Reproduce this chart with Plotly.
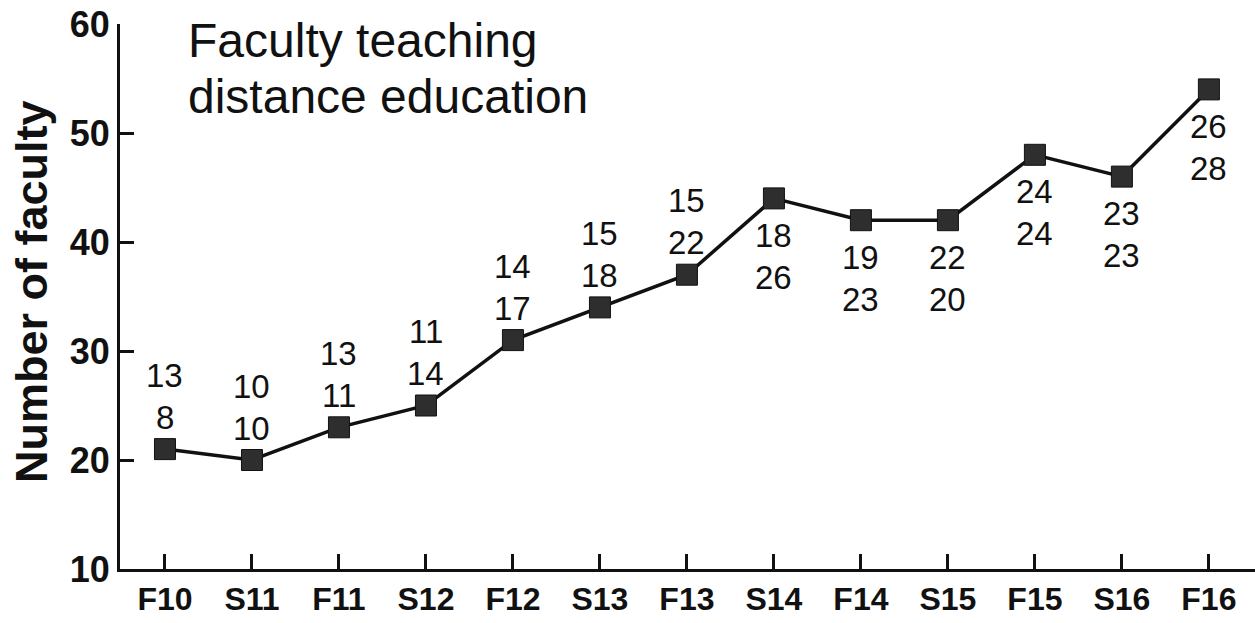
import plotly.graph_objects as go

semesters = ["F10", "S11", "F11", "S12", "F12", "S13", "F13",
             "S14", "F14", "S15", "F15", "S16", "F16"]
faculty_total = [21, 20, 23, 25, 31, 34, 37, 44, 42, 42, 48, 46, 54]
label_first = [13, 10, 13, 11, 14, 15, 15, 18, 19, 22, 24, 23, 26]
label_second = [8, 10, 11, 14, 17, 18, 22, 26, 23, 20, 24, 23, 28]
label_above = [True] * 7 + [False] * 6
y_ticks = [10, 20, 30, 40, 50, 60]

FONT = "Liberation Sans, Arial, sans-serif"

fig = go.Figure()
fig.add_trace(go.Scatter(
    x=semesters, y=faculty_total, mode="lines+markers",
    line=dict(color="#111111", width=3.5),
    marker=dict(symbol="square", size=21, color="#2e2e2e",
                line=dict(color="#111111", width=1)),
    showlegend=False, hoverinfo="skip",
))

annotations = []
for s, v, a, b, above in zip(semesters, faculty_total, label_first,
                             label_second, label_above):
    if above:
        shifts = (74, 32)
    else:
        shifts = (-37, -79)
    for txt, sh in zip((a, b), shifts):
        annotations.append(dict(
            x=s, y=v, xref="x", yref="y", text=str(txt), showarrow=False,
            yshift=sh, xanchor="center", yanchor="middle",
            font=dict(family=FONT, size=33, color="#111111")))

# chart caption
for txt, ypx in (("Faculty teaching", 41), ("distance education", 97)):
    annotations.append(dict(
        x=(186 - 120) / 1135, y=(569 - ypx) / 545, xref="paper", yref="paper",
        text=txt, showarrow=False, xanchor="left", yanchor="middle",
        font=dict(family=FONT, size=48, color="#111111")))

# y-axis title
annotations.append(dict(
    x=(31 - 120) / 1135, y=(569 - 292) / 545, xref="paper", yref="paper",
    text="<b>Number of faculty</b>", showarrow=False, textangle=-90,
    xanchor="center", yanchor="middle",
    font=dict(family=FONT, size=45, color="#111111")))

fig.update_layout(
    width=1255, height=623,
    margin=dict(l=120, r=0, t=24, b=54),
    paper_bgcolor="white", plot_bgcolor="white",
    annotations=annotations,
    xaxis=dict(
        type="category", range=[-0.517, 12.53], automargin=False,
        showgrid=False, zeroline=False,
        showline=True, linecolor="#111111", linewidth=3,
        ticks="inside", ticklen=15, tickwidth=2.5, tickcolor="#111111",
        tickfont=dict(family=FONT, size=32, color="#111111", weight="bold"),
    ),
    yaxis=dict(
        range=[10, 60], tickvals=y_ticks, automargin=False,
        showgrid=False, zeroline=False,
        showline=True, linecolor="#111111", linewidth=3,
        ticks="inside", ticklen=14, tickwidth=2.5, tickcolor="#111111",
        tickfont=dict(family=FONT, size=36, color="#111111", weight="bold"),
    ),
)

fig.write_html("out.html",
               config={"displayModeBar": False},
               post_script="document.body.style.margin='0';"
                           "document.body.style.overflow='hidden';")
